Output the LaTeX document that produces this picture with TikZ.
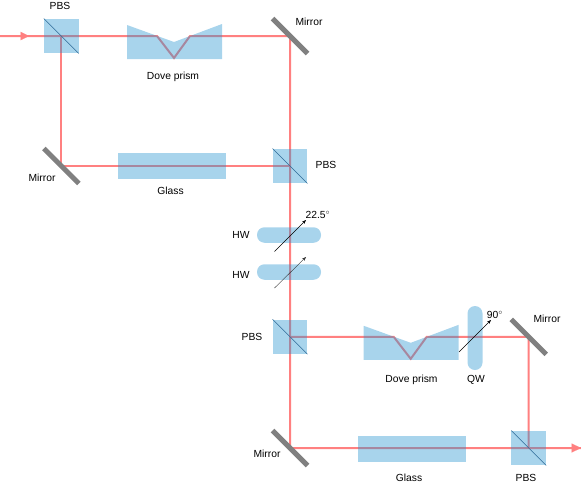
\documentclass[tikz,border=0pt]{standalone}
\usepackage{xcolor}
\usepackage{fontspec}
\setmainfont{Liberation Sans}
\usetikzlibrary{arrows.meta, backgrounds}
\definecolor{beamred}{RGB}{255,128,128}
\definecolor{glassblue}{RGB}{37,147,207}
\definecolor{mirrorgray}{RGB}{128,128,128}
\definecolor{splitline}{RGB}{45,105,150}
\tikzset{
  optic/.style={fill=glassblue, fill opacity=0.4, draw=none, inner sep=0pt},
  pbsbox/.style={optic, rectangle, minimum width=34.5pt, minimum height=34.5pt},
  glassbox/.style={optic, rectangle, minimum width=108pt, minimum height=26pt},
  waveh/.style={optic, rectangle, rounded corners=7.5pt, minimum width=64pt, minimum height=15.5pt},
  wavev/.style={optic, rectangle, rounded corners=7.5pt, minimum width=15pt, minimum height=64pt},
  mirror/.style={fill=mirrorgray, draw=none, rectangle, inner sep=0pt, minimum width=49.5pt, minimum height=5pt, rotate=-45},
  beam/.style={draw=beamred, line width=2pt},
  plate/.style={draw=black, line width=0.4pt, -{Stealth[length=4pt, width=3pt]}},
  label/.style={font=\fontsize{10.3}{12}\selectfont, inner sep=0pt},
  doveprism/.pic={
    \path[optic] (-47,-11) -- (0,6) -- (48,-12) -- (48,23) -- (-47,23) -- cycle;
    \coordinate (-in) at (-17,0);
    \coordinate (-low) at (0,22);
    \coordinate (-out) at (16,0);
  }
}
\begin{document}
\begin{tikzpicture}[x=1pt,y=-1pt]
  \useasboundingbox (0,0) rectangle (581,485);
  \node[pbsbox] (pbsa) at (61.3,36) {};
  \node[pbsbox] (pbsb) at (290,166) {};
  \node[pbsbox] (pbsc) at (290,336.8) {};
  \node[pbsbox] (pbsd) at (528.7,448) {};
  \foreach \a in {pbsa,pbsb,pbsc,pbsd} {
    \draw[splitline, line width=0.5pt] (\a.north west) -- (\a.south east);
  }
  \node[mirror] (mirrora) at (290,36) {};
  \node[mirror] (mirrorb) at (61.3,166) {};
  \node[mirror] (mirrorc) at (290,448) {};
  \node[mirror] (mirrord) at (528.7,336.8) {};
  \pic (dovea) at (174,36) {doveprism};
  \pic (doveb) at (410.7,336.8) {doveprism};
  \node[glassbox] (glassa) at (172,166.3) {};
  \node[glassbox] (glassb) at (411.5,449) {};
  \node[waveh] (hwa) at (289,235) {};
  \node[waveh] (hwb) at (289,272) {};
  \node[wavev] (qw) at (475,338) {};
  \coordinate (input) at (0,36);
  \coordinate (inputtip) at (29,36);
  \coordinate (output) at (581,448);

  \begin{pgfonlayer}{background}
    \draw[beam] (input) -- (pbsa.center) -- (dovea-in) -- (dovea-low) -- (dovea-out) -- (mirrora.center)
      -- (pbsb.center) -- (pbsc.center) -- (mirrorc.center) -- (pbsd.center) -- (output);
    \draw[beam] (pbsa.center) -- (mirrorb.center) -- (pbsb.center);
    \draw[beam] (pbsc.center) -- (doveb-in) -- (doveb-low) -- (doveb-out) -- (mirrord.center) -- (pbsd.center);
  \end{pgfonlayer}
  \draw[beam, -{Triangle[length=8.5pt, width=8.5pt]}, line width=0.01pt] (input) -- (inputtip);
  \draw[beam, -{Triangle[length=9.5pt, width=9pt]}, line width=0.01pt] (pbsd.center) -- (output);

  \coordinate (hwastart) at (274.5,251.5);
  \coordinate (hwaend) at (306,220);
  \coordinate (hwbstart) at (274.5,288);
  \coordinate (hwbend) at (306,257);
  \coordinate (qwstart) at (459,352);
  \coordinate (qwend) at (491,320);
  \draw[plate] (hwastart) -- (hwaend);
  \draw[plate, draw=black!80] (hwbstart) -- (hwbend);
  \draw[plate] (qwstart) -- (qwend);

  \node[label] (lpbsa) at (60,6) {PBS};
  \node[label] (lpbsb) at (326,165) {PBS};
  \node[label] (lpbsc) at (252,337) {PBS};
  \node[label] (lpbsd) at (526,478) {PBS};
  \node[label] (lmirrora) at (309,22) {Mirror};
  \node[label] (lmirrorb) at (42,178) {Mirror};
  \node[label] (lmirrorc) at (267,454) {Mirror};
  \node[label] (lmirrord) at (547,319) {Mirror};
  \node[label] (ldovea) at (173,76.5) {Dove prism};
  \node[label] (ldoveb) at (411.5,379.5) {Dove prism};
  \node[label] (lglassa) at (170.5,191) {Glass};
  \node[label] (lglassb) at (409,478) {Glass};
  \node[label] (lhwa) at (241,235) {HW};
  \node[label] (lhwb) at (241,275) {HW};
  \node[label] (lqw) at (476,380) {QW};
  \node[label] (langa) at (318,215) {22.5$^{\circ}$};
  \node[label] (langb) at (495,315) {90$^{\circ}$};
\end{tikzpicture}
\end{document}
